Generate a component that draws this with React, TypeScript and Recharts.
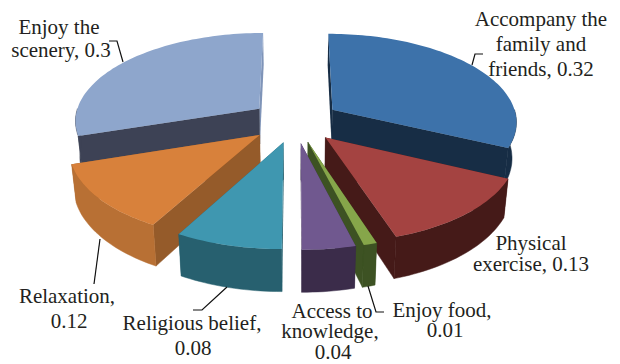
import React from "react";
import { PieChart, Pie } from "recharts";

// Share of respondents per travel motivation, clockwise from twelve o'clock.
const categories = [
  "Accompany the family and friends",
  "Physical exercise",
  "Enjoy food",
  "Access to knowledge",
  "Religious belief",
  "Relaxation",
  "Enjoy the scenery",
];
const shares = [0.32, 0.13, 0.01, 0.04, 0.08, 0.12, 0.3];
const rows = categories.map((name, i) => ({ name, value: shares[i] }));

// Wrapped label text for each category.
const labelLines = [
  ["Accompany the", "family and", "friends, 0.32"],
  ["Physical", "exercise, 0.13"],
  ["Enjoy food,", "0.01"],
  ["Access to", "knowledge,", "0.04"],
  ["Religious belief,", "0.08"],
  ["Relaxation,", "0.12"],
  ["Enjoy the", "scenery, 0.3"],
];

const topColors = ["#3d72aa", "#a44341", "#86a64a", "#70588f", "#3f97b0", "#d8813b", "#8ea6cc"];
const rimColors = ["#172d45", "#451a18", "#3d5223", "#3b2c4a", "#27606f", "#b87034", "#3d4255"];
const cutColors = ["#172d45", "#451a18", "#3d5223", "#3b2c4a", "#27606f", "#955b2a", "#3d4255"];
const backColors = ["#172d45", "#451a18", "#3d5223", "#3b2c4a", "#27606f", "#955b2a", "#7f94b8"];

// Back slices are painted first so that nearer ones overlap them.
const paintOrder = [6, 0, 5, 1, 4, 2, 3];

// Label anchors: centre x and baseline y per line, plus the leader polyline.
const labelLayout = [
  { x: [541, 541, 541], y: [26, 51, 76], leader: [[472, 65], [475, 54], [483, 54]] },
  { x: [531, 531], y: [250, 271], leader: [] },
  { x: [442, 445], y: [317, 337], leader: [[368, 286], [376, 312], [384, 312]] },
  { x: [332, 330, 333], y: [318, 338, 359], leader: [] },
  { x: [192, 193], y: [330, 355], leader: [[227, 287], [202, 310], [193, 310]] },
  { x: [67, 69], y: [303, 328], leader: [[100, 239], [94, 284]] },
  { x: [59, 61], y: [34, 57], leader: [[109, 41], [117, 41], [123, 62]] },
];

const WIDTH = 620;
const HEIGHT = 364;
const CX = 295;
const CY = 121;
const RADIUS = 185;
const EXPLODE = 45;
const TILT = 0.475;
const FOCAL = 1500;
const DEPTH = 36;
const LEAN = 0.02;

type Pt = [number, number];
const rad = (d: number) => (d * Math.PI) / 180;

// Projects a point on the pie's plane (clock angle, radius) with perspective,
// after pushing it outward along the slice's bisector.
function project(clock: number, r: number, mid: number, lower: boolean): Pt {
  const X = EXPLODE * Math.sin(rad(mid)) + r * Math.sin(rad(clock));
  const Z = -EXPLODE * Math.cos(rad(mid)) - r * Math.cos(rad(clock));
  const p = FOCAL / (FOCAL - Z);
  const x = X * p;
  const y = Z * TILT * p;
  if (!lower) return [CX + x, CY + y];
  return [CX + x * (1 - LEAN), CY + y + DEPTH * p];
}

const toPath = (pts: Pt[]) =>
  "M" + pts.map(([x, y]) => `${x.toFixed(1)},${y.toFixed(1)}`).join("L") + "Z";

function arc(a: number, b: number, r: number, mid: number, lower: boolean): Pt[] {
  const n = Math.max(2, Math.ceil(Math.abs(b - a) / 1.5));
  const pts: Pt[] = [];
  for (let i = 0; i <= n; i++) pts.push(project(a + ((b - a) * i) / n, r, mid, lower));
  return pts;
}

function Wedge({ startAngle, endAngle, outerRadius, index }: any) {
  const a = 90 - startAngle;
  const b = 90 - endAngle;
  const mid = (a + b) / 2;
  const radial = (clock: number) => [
    project(clock, 0, mid, false),
    project(clock, outerRadius, mid, false),
    project(clock, outerRadius, mid, true),
    project(clock, 0, mid, true),
  ];
  const isFront = (clock: number, end: boolean) =>
    end ? Math.sin(rad(clock)) > 0.001 : Math.sin(rad(clock)) < -0.001;
  const faces = [
    { pts: radial(a), front: isFront(a, false) },
    { pts: radial(b), front: isFront(b, true) },
  ];
  const rimA = Math.max(a, 90);
  const rimB = Math.min(b, 270);
  const top = [project(a, 0, mid, false), ...arc(a, b, outerRadius, mid, false)];
  return (
    <g>
      {faces.filter((f) => !f.front).map((f, i) => (
        <path key={i} d={toPath(f.pts)} fill={backColors[index]} />
      ))}
      {faces.filter((f) => f.front).map((f, i) => (
        <path
          key={i}
          d={toPath(f.pts)}
          fill={cutColors[index]}
          stroke={cutColors[index]}
          strokeWidth={0.5}
        />
      ))}
      {rimA < rimB && (
        <path
          d={toPath([
            ...arc(rimA, rimB, outerRadius, mid, false),
            ...arc(rimB, rimA, outerRadius, mid, true),
          ])}
          fill={rimColors[index]}
          stroke={rimColors[index]}
          strokeWidth={0.5}
        />
      )}
      <path d={toPath(top)} fill={topColors[index]} />
    </g>
  );
}

function SliceLabel({ index }: any) {
  const place = labelLayout[index];
  return (
    <g>
      {place.leader.length > 0 && (
        <polyline
          points={place.leader.map((p) => p.join(",")).join(" ")}
          fill="none"
          stroke="#111"
          strokeWidth={1.2}
        />
      )}
      {labelLines[index].map((line, i) => (
        <text
          key={line}
          x={place.x[i]}
          y={place.y[i]}
          textAnchor="middle"
          fontFamily="'Liberation Serif', serif"
          fontSize={21}
          fill="#231f20"
        >
          {line}
        </text>
      ))}
    </g>
  );
}

const pieProps = {
  data: rows,
  dataKey: "value",
  nameKey: "name",
  cx: CX,
  cy: CY,
  outerRadius: RADIUS,
  startAngle: 90,
  endAngle: -270,
  stroke: "none",
  isAnimationActive: false,
};

export default function App() {
  return (
    <div style={{ position: "absolute", left: 0, top: 0, background: "#fff" }}>
      <PieChart width={WIDTH} height={HEIGHT} margin={{ top: 0, right: 0, bottom: 0, left: 0 }}>
        {paintOrder.map((slice) => (
          <Pie
            key={slice}
            {...pieProps}
            labelLine={false}
            shape={(p: any) =>
              p.index === slice ? <Wedge {...p} index={slice} /> : <g />
            }
          />
        ))}
        <Pie
          {...pieProps}
          shape={() => <g />}
          labelLine={false}
          label={(p: any) => <SliceLabel index={p.index} />}
        />
      </PieChart>
    </div>
  );
}
